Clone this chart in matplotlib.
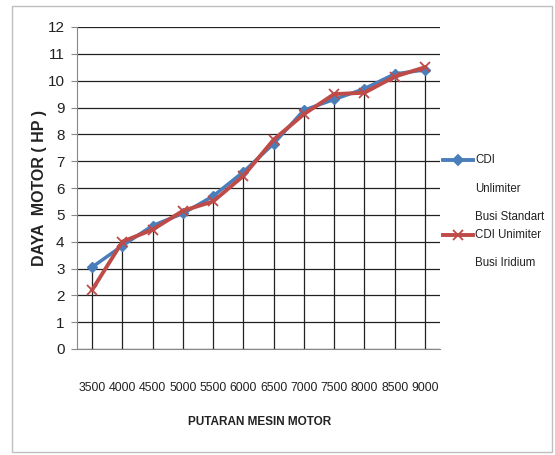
import matplotlib
matplotlib.use("Agg")
import matplotlib.pyplot as plt
from matplotlib.lines import Line2D
from matplotlib.patches import Rectangle
import numpy as np

rpm = ["3500", "4000", "4500", "5000", "5500", "6000",
       "6500", "7000", "7500", "8000", "8500", "9000"]
standart = [3.05, 3.85, 4.6, 5.05, 5.7, 6.6, 7.65, 8.9, 9.3, 9.7, 10.25, 10.4]
iridium = [2.2, 4.0, 4.45, 5.15, 5.5, 6.45, 7.8, 8.75, 9.5, 9.55, 10.15, 10.5]

blue = "#4a7ebb"
red = "#be4b48"
sans = ["Liberation Sans", "DejaVu Sans"]

fig = plt.figure(figsize=(5.55, 4.55), dpi=100)
fig.add_artist(Rectangle((12 / 555, 3 / 455), 540 / 555, 446 / 455,
                         transform=fig.transFigure, fill=False,
                         edgecolor="#bfbfbf", lw=1))

ax = fig.add_axes([77 / 555, (455 - 349) / 455, 363 / 555, 322 / 455])
x = np.arange(len(rpm))

ax.set_ylim(0, 12)
ax.set_xlim(-0.5, len(rpm) - 0.5)
ax.set_yticks(range(0, 13))
ax.yaxis.grid(True, color="#222222", lw=0.9)
ax.set_axisbelow(True)

# drop lines
top = np.maximum(standart, iridium)
ax.vlines(x, 0, top, color="#222222", lw=0.9, zorder=1)

ax.plot(x, standart, color=blue, lw=2.5, marker="D", ms=5.5, zorder=3)
ax.plot(x, iridium, color=red, lw=2.8, marker="x", ms=6.5, mew=1.3, zorder=4)

ax.set_xticks(x)
ax.set_xticklabels(rpm, fontfamily=sans, fontsize=8.8, color="#222222")
for lab in ax.get_yticklabels():
    lab.set_fontfamily(sans)
    lab.set_fontsize(11)
    lab.set_color("#222222")
ax.tick_params(axis="x", length=0, pad=24)
ax.tick_params(axis="y", length=4, color="#888888", pad=5)

for s in ["top", "right"]:
    ax.spines[s].set_visible(False)
ax.spines["left"].set_color("#888888")
ax.spines["bottom"].set_color("#888888")

fig.text(40 / 555, 1 - 188 / 455, "DAYA  MOTOR ( HP )", rotation=90,
         ha="center", va="center", fontsize=11.5, fontweight="bold",
         family=sans, color="#222222")
fig.text(260 / 555, 1 - 422 / 455, "PUTARAN MESIN MOTOR", ha="center",
         va="center", fontsize=8.5, fontweight="bold", family=sans,
         color="#222222")

# legend
def key(y, color, marker, ms, text_lines):
    fig.add_artist(Line2D([443 / 555, 473 / 555], [1 - y / 455] * 2,
                          transform=fig.transFigure, color=color, lw=2.8))
    fig.add_artist(Line2D([458 / 555], [1 - y / 455], transform=fig.transFigure,
                          color=color, marker=marker, ms=ms, mew=1.3))
    for i, t in enumerate(text_lines):
        fig.text(475 / 555, 1 - (y + 28.5 * i) / 455, t, va="center",
                 ha="left", fontsize=8.3, family=sans, color="#222222")

key(160, blue, "D", 5.5, ["CDI", "Unlimiter", "Busi Standart"])
key(235, red, "x", 6.5, ["CDI Unimiter", "Busi Iridium"])

fig.savefig("out.png", dpi=100)
